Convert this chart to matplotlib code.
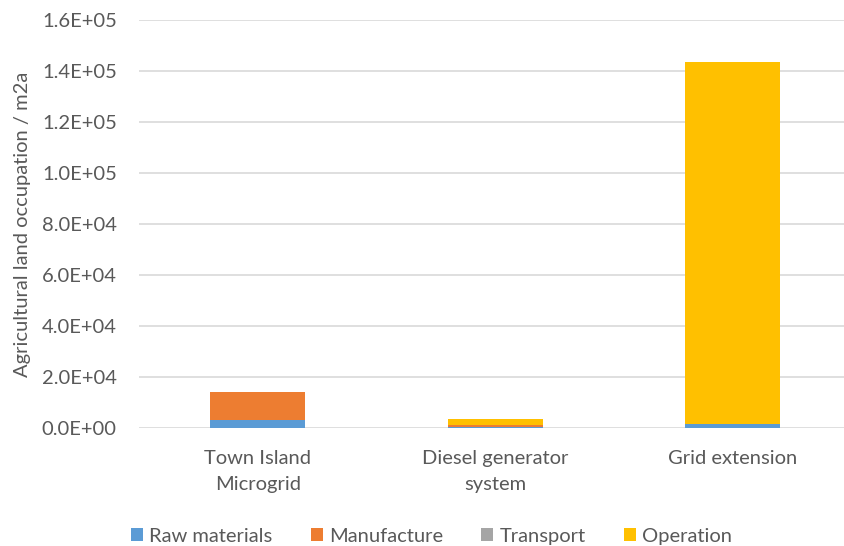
import matplotlib.pyplot as plt
import numpy as np

categories = ["Town Island\nMicrogrid", "Diesel generator\nsystem", "Grid extension"]
series_names = ["Raw materials", "Manufacture", "Transport", "Operation"]
raw_materials = [3100, 300, 1500]
manufacture = [11000, 700, 100]
transport = [50, 50, 50]
operation = [0, 2400, 142000]
colors = ["#5B9BD5", "#ED7D31", "#A5A5A5", "#FFC000"]

plt.rcParams["font.family"] = ["Lato", "DejaVu Sans"]
text_color = "#595959"

fig = plt.figure(figsize=(8.44, 5.46), dpi=100)
ax = fig.add_axes([139 / 844, 1 - 428 / 546, 1 - 139 / 844, (428 - 20) / 546])

x = np.arange(len(categories))
bottom = np.zeros(len(categories))
for name, vals, c in zip(series_names, [raw_materials, manufacture, transport, operation], colors):
    ax.bar(x, vals, width=0.4, bottom=bottom, color=c, label=name, zorder=3)
    bottom += np.array(vals)

ax.set_ylim(0, 1.6e5)
ax.set_xlim(-0.5, 2.47)
ax.set_yticks(np.arange(0, 1.61e5, 2e4))
ax.set_yticklabels([f"{v:.1E}" for v in np.arange(0, 1.61e5, 2e4)])
ax.set_xticks(x)
ax.set_xticklabels(categories, linespacing=1.6)
ax.grid(axis="y", color="#D9D9D9", linewidth=1.2, zorder=0)
for s in ax.spines.values():
    s.set_visible(False)
ax.tick_params(axis="both", length=0, labelsize=14.5, colors=text_color, pad=16)
ax.tick_params(axis="x", pad=16)
ax.set_ylabel("Agricultural land occupation / m2a", fontsize=14.5, color=text_color, labelpad=8)

ax.legend(loc="center", bbox_to_anchor=(0.415, -0.265), ncol=4, frameon=False,
          fontsize=14.5, labelcolor=text_color, handlelength=0.6, handleheight=0.6,
          handletextpad=0.3, columnspacing=1.9)

fig.savefig("out.png", dpi=100)
